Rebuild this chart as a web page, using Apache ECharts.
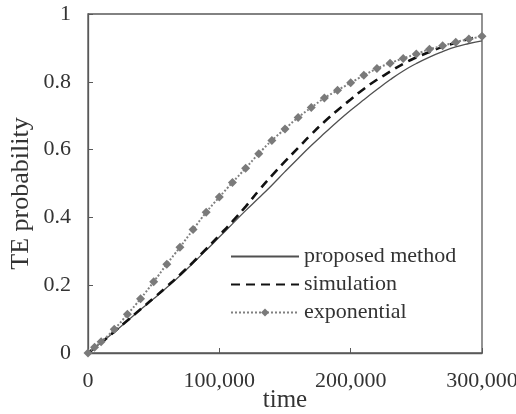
<!DOCTYPE html>
<html>
<head>
<meta charset="utf-8">
<script src="https://cdn.jsdelivr.net/npm/echarts@6/dist/echarts.min.js"></script>
<style>
  html, body { margin: 0; padding: 0; background: #fff; }
  #chart { width: 516px; height: 414px; }
</style>
</head>
<body>
<div id="chart"></div>
<script>
// ---- data ----
var timeGrid = [0, 10000, 20000, 30000, 40000, 50000, 60000, 70000, 80000, 90000,
  100000, 110000, 120000, 130000, 140000, 150000, 160000, 170000, 180000, 190000,
  200000, 210000, 220000, 230000, 240000, 250000, 260000, 270000, 280000, 290000, 300000];
var proposedValues = [0, 0.030, 0.062, 0.095, 0.128, 0.160, 0.193, 0.228, 0.265, 0.303,
  0.342, 0.381, 0.420, 0.457, 0.495, 0.535, 0.574, 0.612, 0.648, 0.683,
  0.716, 0.747, 0.777, 0.806, 0.832, 0.854, 0.873, 0.889, 0.903, 0.913, 0.921];
var simulationValues = [0, 0.030, 0.063, 0.096, 0.129, 0.162, 0.196, 0.231, 0.268, 0.307,
  0.347, 0.388, 0.432, 0.479, 0.523, 0.565, 0.605, 0.645, 0.682, 0.716,
  0.748, 0.779, 0.806, 0.830, 0.853, 0.872, 0.888, 0.903, 0.915, 0.926, 0.935];
var expTimes = [0, 5000, 10000, 20000, 30000, 40000, 50000, 60000, 70000, 80000, 90000,
  100000, 110000, 120000, 130000, 140000, 150000, 160000, 170000, 180000, 190000,
  200000, 210000, 220000, 230000, 240000, 250000, 260000, 270000, 280000, 290000, 300000];
var exponentialValues = [0, 0.017, 0.033, 0.070, 0.114, 0.160, 0.210, 0.262, 0.312, 0.364, 0.415,
  0.460, 0.503, 0.545, 0.588, 0.627, 0.661, 0.695, 0.724, 0.752, 0.775,
  0.797, 0.819, 0.839, 0.855, 0.869, 0.882, 0.896, 0.906, 0.917, 0.926, 0.934];
var seriesNames = ['proposed method', 'simulation', 'exponential'];
var xTicks = [0, 100000, 200000, 300000];
var yTicks = [0, 0.2, 0.4, 0.6, 0.8, 1];

function pairs(xs, ys) { return xs.map(function (x, i) { return [x, ys[i]]; }); }

var FONT = "'Liberation Serif', 'Times New Roman', serif";
var AXIS = '#595959';
var TEXT = '#333333';

var chart = echarts.init(document.getElementById('chart'), null, { renderer: 'canvas' });
chart.setOption({
  animation: false,
  backgroundColor: '#ffffff',
  grid: {
    left: 88, right: 34, top: 14, bottom: 61,
    containLabel: false, outerBoundsMode: 'none',
    show: true, borderColor: AXIS, borderWidth: 1.3, backgroundColor: 'transparent'
  },
  legend: {
    orient: 'vertical',
    left: 225,
    top: 239,
    itemWidth: 68,
    itemHeight: 10,
    itemGap: 3,
    data: [
      { name: seriesNames[0], itemStyle: { opacity: 0 } },
      { name: seriesNames[1], itemStyle: { opacity: 0 } },
      { name: seriesNames[2] }
    ],
    textStyle: { fontFamily: FONT, fontSize: 22, color: TEXT, lineHeight: 25 }
  },
  xAxis: {
    type: 'value',
    min: xTicks[0], max: xTicks[xTicks.length - 1], interval: 100000,
    name: 'time', nameLocation: 'middle', nameGap: 35, nameMoveOverlap: false,
    nameTextStyle: { fontFamily: FONT, fontSize: 25, color: TEXT },
    axisLine: { show: true, lineStyle: { color: AXIS, width: 1.3 } },
    axisTick: { show: true, inside: true, length: 5, lineStyle: { color: AXIS } },
    splitLine: { show: false },
    axisLabel: {
      fontFamily: FONT, fontSize: 22, color: TEXT, margin: 17,
      formatter: function (v) { return v.toLocaleString('en-US'); }
    }
  },
  yAxis: {
    type: 'value',
    min: yTicks[0], max: yTicks[yTicks.length - 1], interval: 0.2,
    name: 'TE probability', nameLocation: 'middle', nameGap: 54, nameMoveOverlap: false,
    nameTextStyle: { fontFamily: FONT, fontSize: 26, color: TEXT, padding: [0, 20, 0, 0] },
    axisLine: { show: true, lineStyle: { color: AXIS, width: 1.3 } },
    axisTick: { show: true, inside: true, length: 5, lineStyle: { color: AXIS } },
    splitLine: { show: false },
    axisLabel: { fontFamily: FONT, fontSize: 22, color: TEXT, margin: 17 }
  },
  series: [
    {
      name: seriesNames[0], type: 'line', data: pairs(timeGrid, proposedValues),
      symbol: 'none', smooth: true,
      lineStyle: { color: '#505050', width: 1.3, type: 'solid' },
      itemStyle: { color: '#505050' }
    },
    {
      name: seriesNames[1], type: 'line', data: pairs(timeGrid, simulationValues),
      symbol: 'none', smooth: true,
      lineStyle: { color: '#111111', width: 2.6, type: [9, 6] },
      itemStyle: { color: '#111111' }
    },
    {
      name: seriesNames[2], type: 'line', data: pairs(expTimes, exponentialValues),
      symbol: 'diamond', symbolSize: 9, smooth: true,
      lineStyle: { color: '#808080', width: 2, type: [2, 2] },
      itemStyle: { color: '#7a7a7a' }
    }
  ]
});
</script>
</body>
</html>
